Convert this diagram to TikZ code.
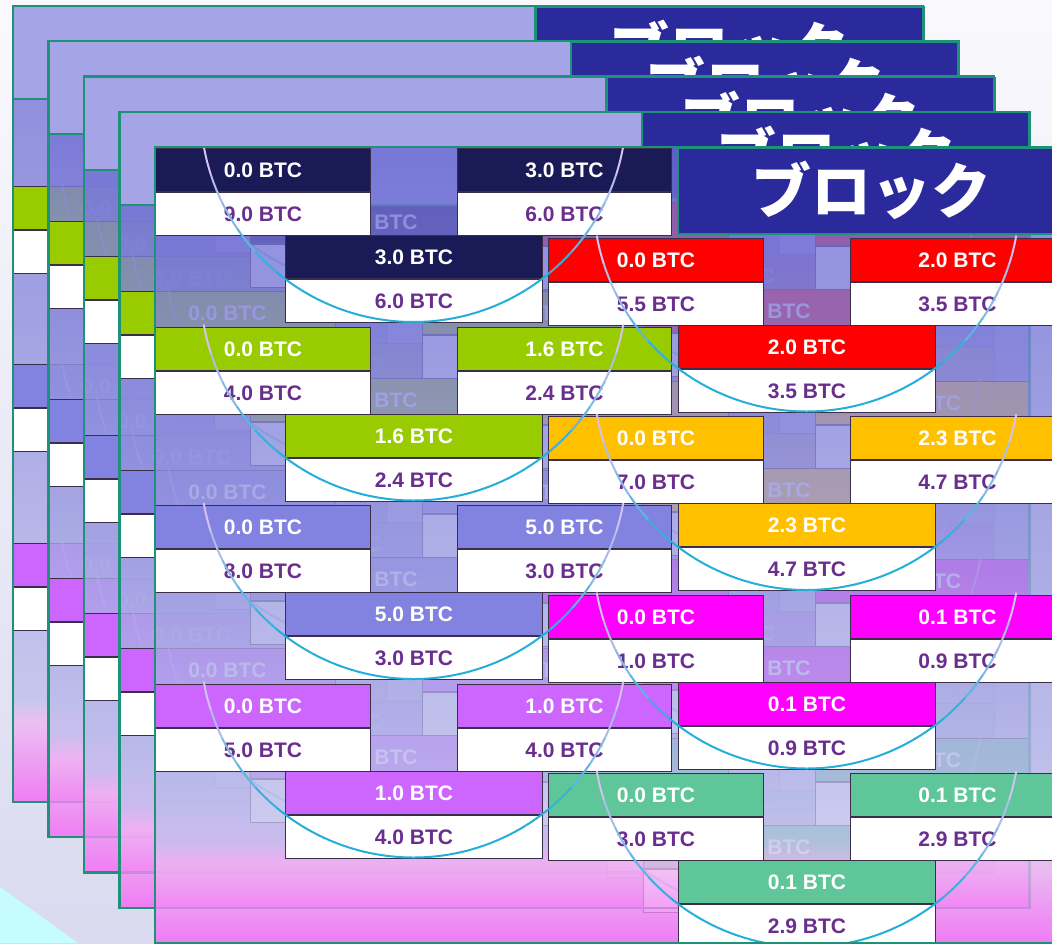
\documentclass[tikz,border=0pt]{standalone}
\usepackage{fontspec}
\setmainfont{Liberation Sans}
\newfontfamily\jpfont{Noto Sans CJK JP}
\usetikzlibrary{positioning}

\definecolor{bgtop}{HTML}{F9F9FD}
\definecolor{bgbot}{HTML}{DADAF0}
\definecolor{glow}{HTML}{C6FCFC}
\definecolor{boxnavy}{HTML}{1A1A56}
\definecolor{boxlime}{HTML}{99CC00}
\definecolor{boxslate}{HTML}{8282E0}
\definecolor{boxviolet}{HTML}{CC66FF}
\definecolor{boxred}{HTML}{FF0000}
\definecolor{boxamber}{HTML}{FFC000}
\definecolor{boxmag}{HTML}{FF00FF}
\definecolor{boxsea}{HTML}{5EC698}
\definecolor{hdrblue}{HTML}{2A2A9C}
\definecolor{band}{HTML}{A4A4E6}
\definecolor{edge}{HTML}{1E9278}
\definecolor{boxline}{HTML}{3A2E48}
\definecolor{amount}{HTML}{6A2E8E}
\definecolor{arcblue}{HTML}{24AEDA}
\definecolor{arcpink}{HTML}{E8C4F0}
\definecolor{lavtop}{HTML}{6C6CD4}
\definecolor{lavmid}{HTML}{9090DE}
\definecolor{lavlow}{HTML}{C0C0EC}
\definecolor{pklight}{HTML}{EEB8F2}
\definecolor{pkdeep}{HTML}{F564F5}

\pgfdeclareverticalshading{pagefill}{100bp}{color(0bp)=(pkdeep); color(25bp)=(pkdeep); color(30bp)=(pklight); color(31.5bp)=(lavlow); color(55bp)=(lavmid); color(75bp)=(lavtop); color(100bp)=(lavtop)}

\tikzset{
  coin/.style={draw=boxline, line width=1pt, fill=#1, text=white, font=\fontsize{21}{21}\selectfont\bfseries,
    inner sep=0pt, minimum height=43pt, text height=15pt, text depth=0pt, anchor=north west},
  rest/.style={coin=white, text=amount, anchor=north},
  hdr/.style={draw=edge, line width=1.5pt, fill=hdrblue, text=white, font=\jpfont\bfseries\fontsize{60}{60}\selectfont,
    minimum width=388pt, minimum height=86pt, inner sep=0pt, anchor=north west},
  pageedge/.style={draw=edge, line width=2.2pt},
  ring/.style={line width=2pt}
}

% one block page: name prefix, shift, band (0/1), ring opacity
\newcommand\blockpage[4]{%
\begin{scope}[shift={#2}]
  \shade[shading=pagefill, fill opacity=0.8] (155,147) rectangle (1065,943);
  \foreach \g/\col/\gx/\gy/\ina/\inb/\out in {
      1/boxnavy/155/148/9.0/3.0/6.0, 2/boxlime/155/326.5/4.0/1.6/2.4,
      3/boxslate/155/505/8.0/5.0/3.0, 4/boxviolet/155/683.5/5.0/1.0/4.0,
      5/boxred/548/237.5/5.5/2.0/3.5, 6/boxamber/548/416/7.0/2.3/4.7,
      7/boxmag/548/594.5/1.0/0.1/0.9, 8/boxsea/548/773/3.0/0.1/2.9}{
    \node[coin=\col, minimum width=215pt] (#1g\g-a) at (\gx,\gy) {0.0 BTC};
    \node[rest, minimum width=215pt, below=0pt of #1g\g-a] (#1g\g-aw) {\ina\ BTC};
    \node[coin=\col, minimum width=214pt] (#1g\g-b) at (\gx+302,\gy) {\inb\ BTC};
    \node[rest, minimum width=214pt, below=0pt of #1g\g-b] (#1g\g-bw) {\out\ BTC};
    \node[coin=\col, minimum width=257pt] (#1g\g-c) at (\gx+130,\gy+87) {\inb\ BTC};
    \node[rest, minimum width=257pt, below=0pt of #1g\g-c] (#1g\g-cw) {\out\ BTC};
  }
  % rings round each transaction
  \foreach \gx/\gy in {155/148, 155/326.5, 155/505, 155/683.5, 548/237.5, 548/416, 548/594.5, 548/773}{
    \foreach \t in {10,18,...,162}{
      \pgfmathtruncatemacro\m{max(0,min(100,(80-abs(\t+4-90))*2.5))}
      \draw[ring, arcblue!\m!arcpink, draw opacity=#4]
        ({\gx+258.5+213*cos(\t)},{\gy-39+213*sin(\t)}) arc[start angle=\t, end angle=\t+8, radius=213];
    }
  }
  \ifnum#3=1 \filldraw[fill=band, draw=edge, line width=2pt] (155,147) rectangle (677,240); \fi
  \node[hdr] (#1head) at (677,147) {ブロック};
  \draw[pageedge] (155,147) rectangle (1065,943);
\end{scope}}

\begin{document}
\begin{tikzpicture}[x=1pt, y=-1pt]
\useasboundingbox (0,0) rectangle (1052,943);
\clip (0,0) rectangle (1052,943);
\shade[top color=bgtop, bottom color=bgbot] (0,0) rectangle (1052,943);
\fill[glow] (0,887) .. controls (35,912) .. (78,943) -- (0,943) -- cycle;

\blockpage{p0}{(-142,-141)}{1}{0.5}
\blockpage{p1}{(-106.5,-105.75)}{1}{0.5}
\blockpage{p2}{(-71,-70.5)}{1}{0.5}
\blockpage{p3}{(-35.5,-35.25)}{1}{0.5}
\blockpage{p4}{(0,0)}{0}{1}
\end{tikzpicture}
\end{document}
